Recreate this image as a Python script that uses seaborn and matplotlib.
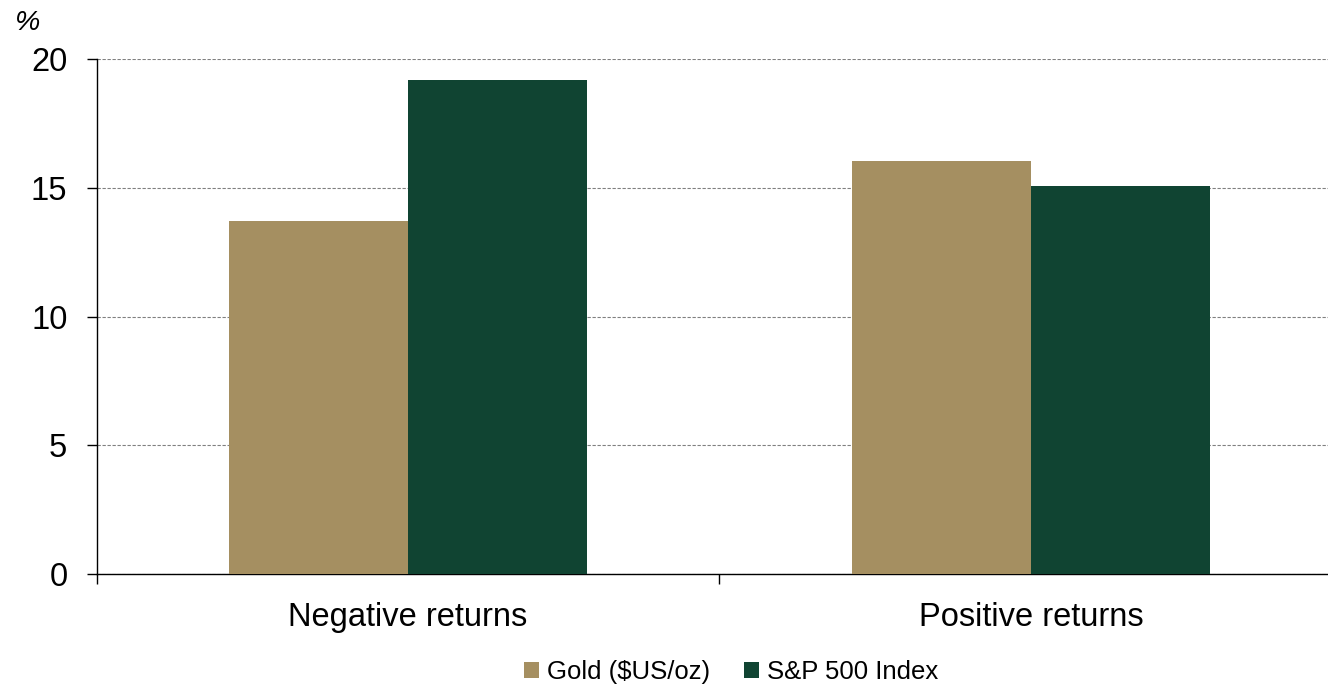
import matplotlib
matplotlib.use("Agg")
import matplotlib.pyplot as plt
import seaborn as sns
import pandas as pd
from matplotlib.ticker import FixedLocator

categories = ["Negative returns", "Positive returns"]
series = ["Gold ($US/oz)", "S&P 500 Index"]
gold_values = [13.72, 16.05]
sp500_values = [19.22, 15.07]
y_ticks = [0, 5, 10, 15, 20]
colors = ["#A58F61", "#104432"]

df = pd.DataFrame({
    "category": categories * 2,
    "series": [series[0]] * 2 + [series[1]] * 2,
    "value": gold_values + sp500_values,
})

sns.set_style("white")
plt.rcParams["font.family"] = ["Liberation Sans", "DejaVu Sans"]
plt.rcParams["text.color"] = "black"
plt.rcParams["xtick.color"] = "black"
plt.rcParams["ytick.color"] = "black"

fig = plt.figure(figsize=(13.28, 6.86), dpi=100)
ax = fig.add_axes([0.0727, 0.1633, 0.9273, 0.75])

sns.barplot(data=df, x="category", y="value", hue="series", palette=colors,
            width=0.575, saturation=1, ax=ax, legend=True, zorder=3,
            edgecolor="none", linewidth=0)

ax.set_xlim(-0.5, 1.477)
ax.set_ylim(0, 20)
ax.set_yticks(y_ticks)
ax.set_yticklabels([str(t) for t in y_ticks], fontsize=23.5)
ax.yaxis.grid(True, linestyle=(0, (3, 1.5)), color="#808080", linewidth=0.8, zorder=0)
ax.set_axisbelow(True)
ax.set_xlabel("")
ax.set_ylabel("")

for side in ["top", "right"]:
    ax.spines[side].set_visible(False)
for side in ["left", "bottom"]:
    ax.spines[side].set_color("black")
    ax.spines[side].set_linewidth(1.0)

ax.tick_params(axis="y", direction="out", length=7, width=1, color="black",
               labelcolor="black", pad=14, left=True)
ax.tick_params(axis="x", which="major", length=0, labelsize=23.5, labelcolor="black", pad=20)
ax.xaxis.set_minor_locator(FixedLocator([-0.5, 0.5]))
ax.tick_params(axis="x", which="minor", direction="out", length=7, width=1, color="black", bottom=True)

fig.text(0.011, 0.966, "%", fontsize=20.5, style="italic", ha="left", va="center", color="black")

handles, labels = ax.get_legend_handles_labels()
ax.legend_.remove()
fig.legend(handles, labels, loc="center", bbox_to_anchor=(0.5505, 0.0204),
           ncol=2, frameon=False, fontsize=18.5, handlelength=0.6, handleheight=0.6,
           handletextpad=0.3, columnspacing=1.3, labelcolor="black")

fig.savefig("out.png", dpi=100)
